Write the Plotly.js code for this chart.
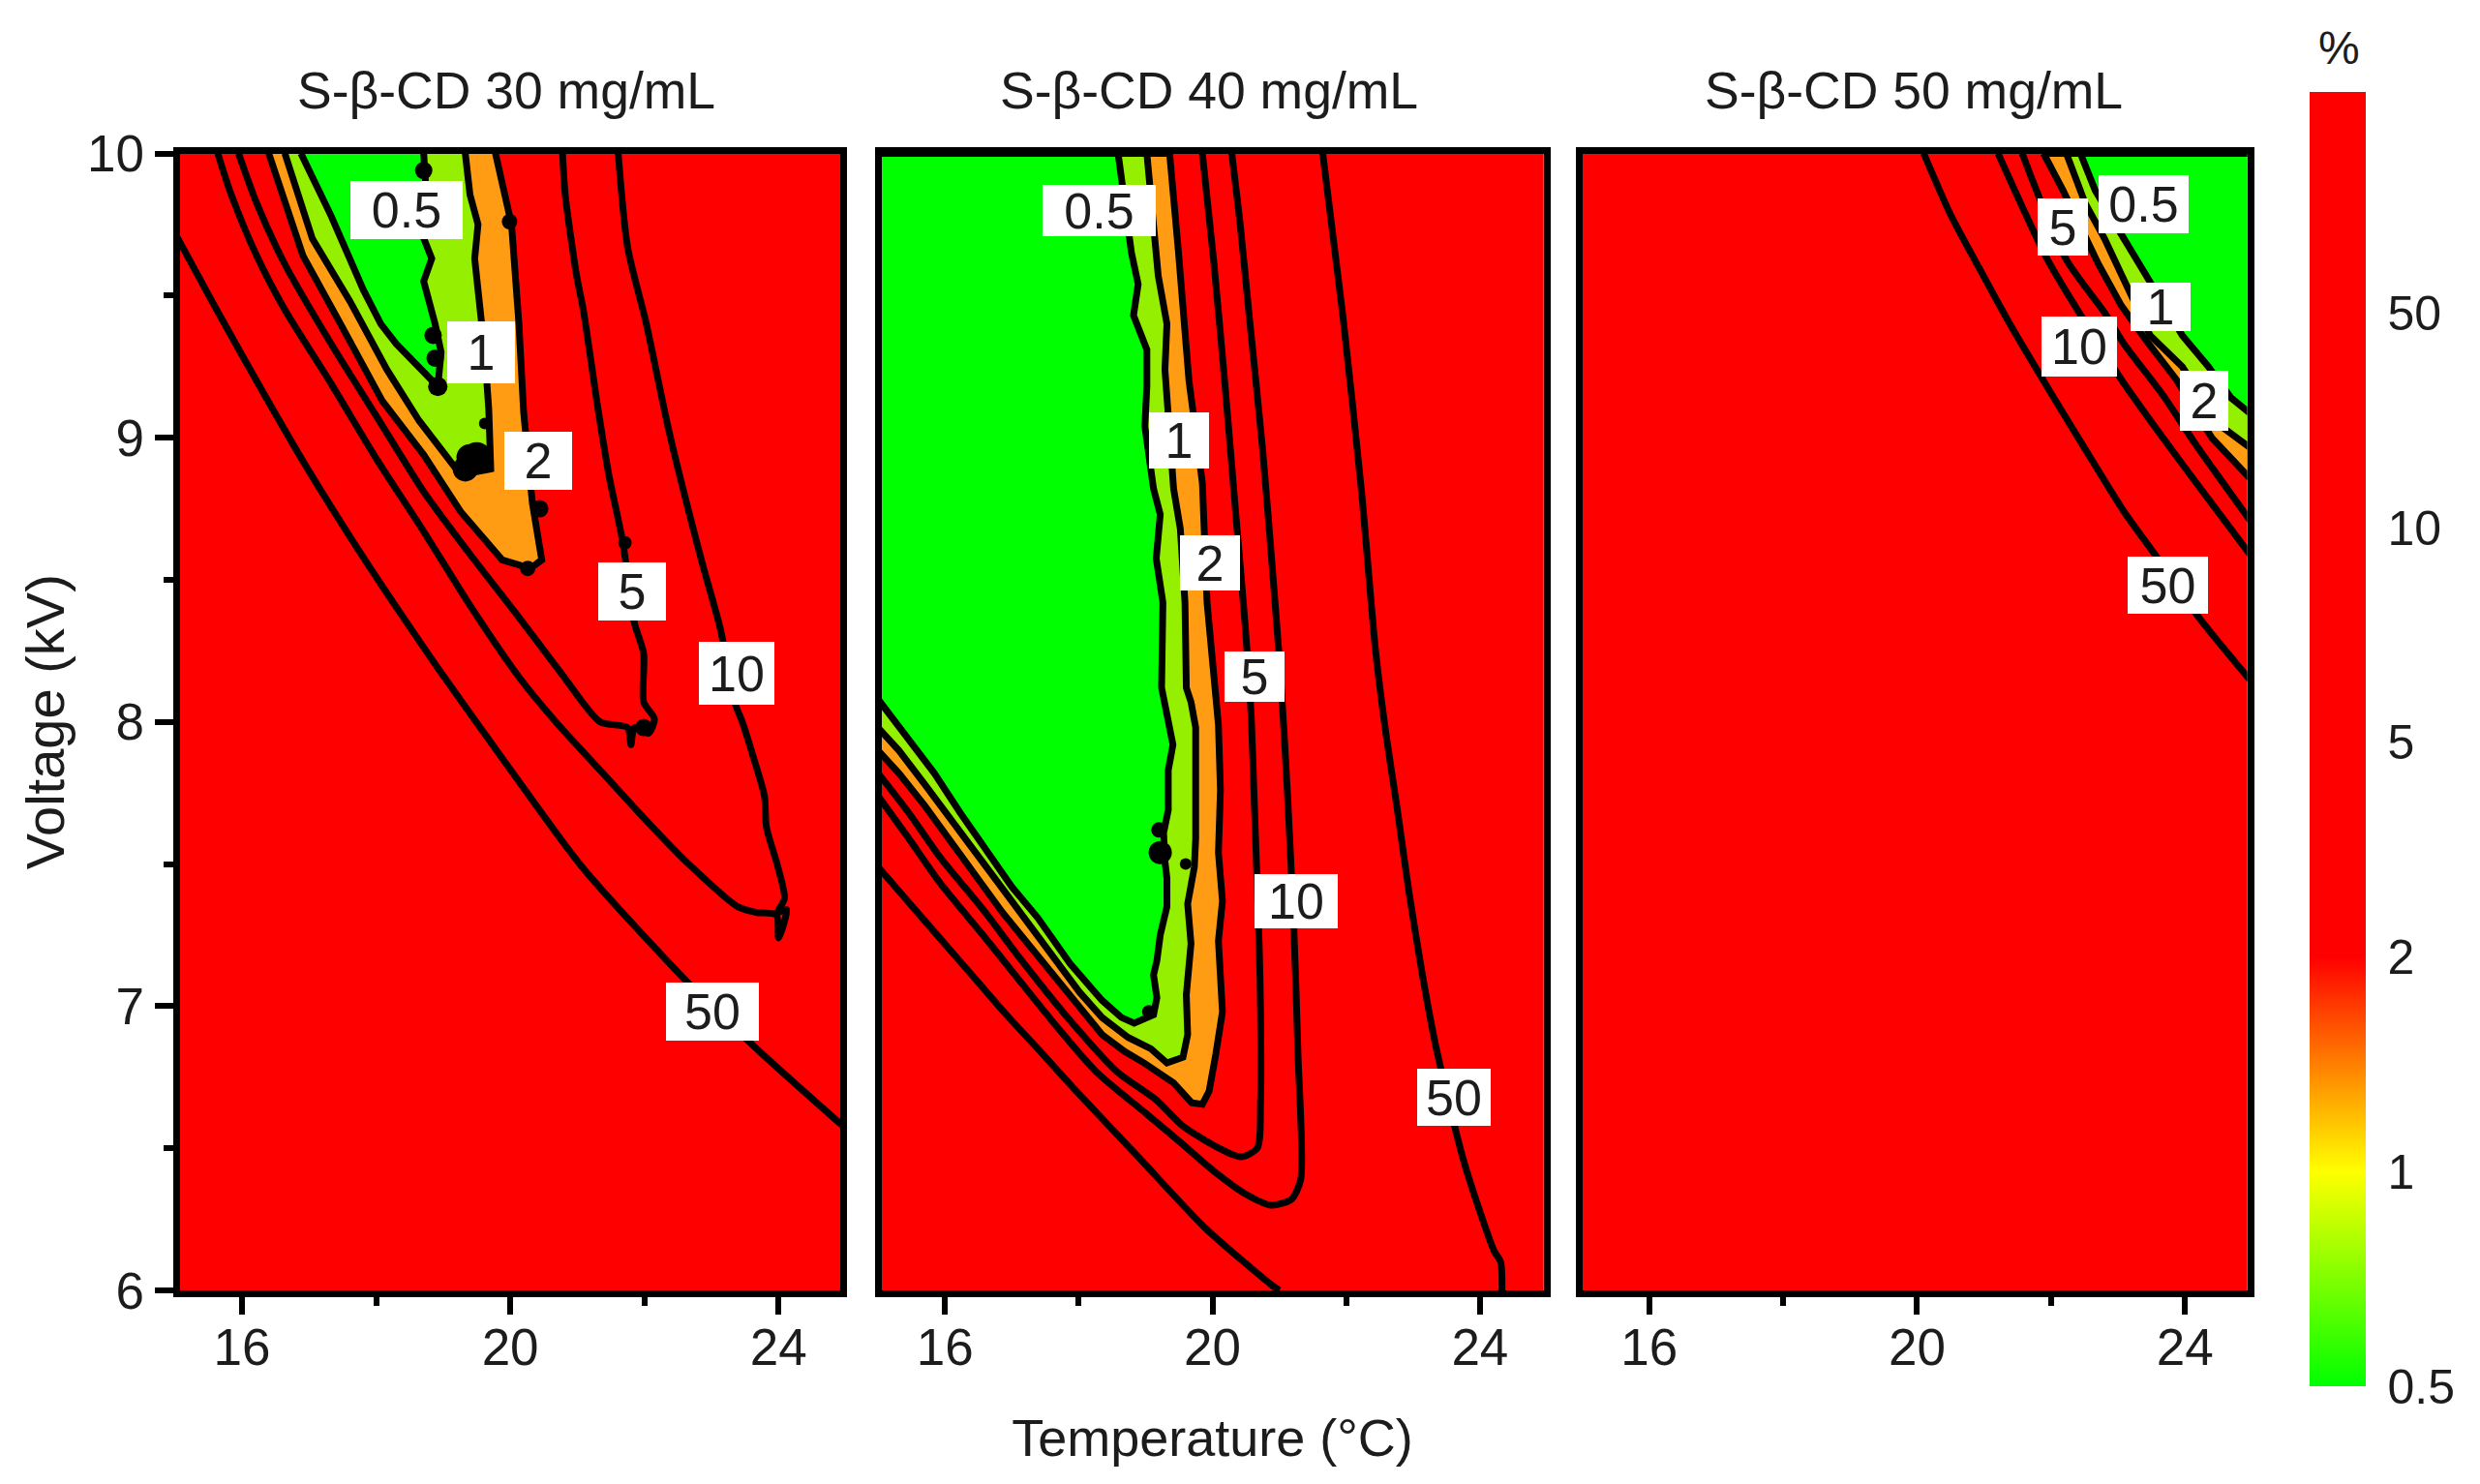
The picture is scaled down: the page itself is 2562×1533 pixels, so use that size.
<!DOCTYPE html>
<html>
<head>
<meta charset="utf-8">
<script src="https://cdn.plot.ly/plotly-3.0.1.min.js"></script>
<style>html,body{margin:0;padding:0;background:#fff}</style>
</head>
<body>
<div id="chart" style="width:2562px;height:1533px"></div>
<script>
// ---- colour-bar levels (% values placed at equal steps) ----
const levelLabels = ['0.5','1','2','5','10','50'];
const levelIndex  = [0,1,2,3,4,5];
const topIndex    = 6.03;
const panelTitles = ['S-β-CD 30 mg/mL','S-β-CD 40 mg/mL','S-β-CD 50 mg/mL'];
const tempEdges = [15,25];
const voltEdges = [6,10];
const backgroundZ = [[6,6],[6,6]];

// ---- Panel 1 (30 mg/mL) iso-lines: temperature, voltage ----
const p1x50=[15,15.6,16.29,16.98,17.67,18.37,18.95,20.01,21.07,22.66,23.72,25];
const p1y50=[9.72,9.46,9.17,8.89,8.63,8.38,8.18,7.83,7.49,7.08,6.84,6.57];
const p1x10=[15.64,15.84,16.22,16.64,17.33,18.02,18.71,19.4,20.14,20.68,21.34,22,22.66,23.39,23.66,23.97,24,24.12,23.99,24.09,23.99,23.82,23.79,23.62,23.46,23.36,23.13,22.85,22.37,22.03,21.75,21.61];
const p1y10=[10,9.855,9.64,9.45,9.19,8.92,8.67,8.41,8.155,8,7.83,7.66,7.5,7.35,7.33,7.32,7.24,7.34,7.33,7.38,7.49,7.63,7.74,7.88,8,8.06,8.33,8.57,9.02,9.4,9.67,10];
const p1x5=[15.95,16.22,16.64,17.33,18.02,18.71,19.4,20.09,20.78,21.34,21.75,21.8,21.85,22.06,22.15,21.99,21.99,21.85,21.68,21.47,21.3,21.09,20.99,20.82,20.78];
const p1y5=[10,9.825,9.61,9.33,9.07,8.81,8.59,8.38,8.165,8,7.98,7.92,7.98,7.96,8.01,8.07,8.24,8.35,8.63,8.87,9.115,9.45,9.57,9.855,10];
const p1x2=[16.4,16.91,17.47,18.09,18.71,19.26,19.88,20.3,20.47,20.4,20.33,20.2,20.13,20.02,19.88,19.78];
const p1y2=[10,9.64,9.4,9.13,8.94,8.74,8.57,8.54,8.57,8.68,8.77,9.09,9.4,9.75,9.9,10];
const p1x1=[16.64,17.05,17.61,18.16,18.64,19.06,19.26,19.71,19.68,19.62,19.47,19.52,19.4,19.33];
const p1y1=[10,9.7,9.48,9.24,9.06,8.93,8.87,8.89,9.1,9.3,9.63,9.75,9.855,10];
const p1x05=[16.88,17.33,17.81,18.07,18.3,18.64,18.92,18.97,18.88,18.71,18.83,18.68,18.75,18.71];
const p1y05=[10,9.78,9.52,9.4,9.33,9.25,9.18,9.3,9.4,9.55,9.63,9.72,9.85,10];
const p1blobX=[18.71,18.85,18.88,18.92,19.5,19.33,20.44,19.99,20.26,21.99,21.71,19.4,19.62];
const p1blobY=[9.94,9.36,9.28,9.18,8.93,8.89,8.75,9.76,8.54,7.98,8.63,8.93,9.05];
const p1blobS=[18,18,18,20,32,26,18,16,16,18,14,28,12];

// ---- Panel 2 (40 mg/mL) iso-lines ----
const p2x50a=[21.65,21.95,22.23,22.44,22.6,22.76,22.94,23.14,23.34,23.74,24.01,24.21,24.31,24.33];
const p2y50a=[10,9.43,8.81,8.25,7.95,7.7,7.4,7.11,6.86,6.47,6.27,6.14,6.1,6];
const p2x50b=[15,15.46,15.94,16.42,16.9,17.39,17.89,18.89,19.89,20.88,21];
const p2y50b=[7.49,7.365,7.235,7.105,6.975,6.85,6.72,6.47,6.22,6.02,6];
const p2x10=[15,15.46,15.94,16.57,17.15,17.72,18.26,19.02,19.55,20.02,20.49,20.88,21.18,21.32,21.28,21.22,21.12,21.02,20.92,20.75,20.55,20.42,20.29];
const p2y10=[7.74,7.59,7.43,7.25,7.08,6.915,6.77,6.62,6.515,6.42,6.34,6.3,6.32,6.39,6.83,7.26,7.76,8.16,8.47,8.96,9.43,9.74,10];
const p2x5=[15,15.46,15.94,16.57,17.15,17.87,18.57,19.16,19.55,20.02,20.42,20.67,20.72,20.72,20.7,20.62,20.58,20.49,20.35,20.19,20.02,19.85];
const p2y5=[7.82,7.68,7.52,7.34,7.16,6.95,6.77,6.67,6.58,6.51,6.47,6.5,6.67,6.98,7.21,7.76,8.02,8.34,8.73,9.18,9.62,10];
const p2x2=[15,15.31,15.7,16.08,16.47,16.86,17.24,17.63,18.01,18.35,18.69,18.98,19.42,19.69,19.85,19.95,20.05,20.15,20.09,20.15,20.09,20.12,20.09,20.02,19.92,19.85,19.65,19.49,19.36,15];
const p2y2=[7.9,7.82,7.705,7.58,7.46,7.33,7.22,7.11,6.995,6.9,6.84,6.8,6.73,6.66,6.655,6.7,6.83,6.98,7.23,7.37,7.54,7.76,7.99,8.19,8.42,8.84,9.2,9.66,10,10];
const p2x1=[15,15.31,15.7,16.08,16.47,16.86,17.24,17.63,18.01,18.35,18.74,19.08,19.32,19.56,19.63,19.61,19.65,19.68,19.63,19.73,19.75,19.75,19.73,19.75,19.68,19.61,19.59,19.52,19.42,19.29,19.32,19.19,19.02,15];
const p2y1=[7.98,7.9,7.78,7.66,7.54,7.41,7.29,7.17,7.05,6.96,6.89,6.85,6.8,6.82,6.9,7.04,7.13,7.22,7.36,7.49,7.59,7.73,7.83,7.98,8.07,8.12,8.42,8.68,8.82,9.24,9.4,9.57,10,10];
const p2x05=[15,15.46,15.84,16.23,16.62,17,17.39,17.87,18.35,18.64,18.83,19.12,19.17,19.12,19.17,19.22,19.32,19.32,19.29,19.27,19.34,19.34,19.41,19.32,19.24,19.26,19.16,19.22,19.12,18.99,19.02,19.02,18.82,18.89,18.79,18.59,15];
const p2y05=[8.08,7.94,7.82,7.68,7.55,7.42,7.31,7.15,7.02,6.96,6.94,6.97,7.03,7.11,7.16,7.25,7.35,7.45,7.51,7.61,7.69,7.83,7.92,8.02,8.12,8.42,8.575,8.73,8.82,9.04,9.18,9.31,9.43,9.54,9.65,10,10];
const p2blobX=[19.22,19.2,19.6,19.05];
const p2blobY=[7.54,7.62,7.5,6.98];
const p2blobS=[24,16,12,14];

// ---- Panel 3 (50 mg/mL) iso-lines ----
const p3x50=[20.1,20.49,20.92,21.41,21.94,22.51,23.09,23.58,24.2,25];
const p3y50=[10,9.79,9.6,9.39,9.18,8.96,8.74,8.58,8.37,8.14];
const p3x10=[21.21,21.94,22.42,23.05,23.67,24.3,25];
const p3y10=[10,9.63,9.44,9.205,9,8.8,8.58];
const p3x5=[21.57,22.22,22.8,23.09,23.67,24.15,25];
const p3y5=[10,9.63,9.44,9.33,9.15,8.98,8.7];
const p3x2=[21.89,22.18,22.71,23.05,23.43,23.87,24.4,25,25,21.89];
const p3y2=[10,9.87,9.61,9.465,9.34,9.205,9,8.85,10,10];
const p3x1=[22.23,22.51,22.8,23.09,23.48,23.96,24.54,25,25,22.23];
const p3y1=[10,9.825,9.7,9.555,9.36,9.25,9.04,8.96,10,10];
const p3x05=[22.44,22.66,23.09,23.43,23.96,24.35,24.69,25,25,22.44];
const p3y05=[10,9.87,9.7,9.57,9.36,9.25,9.14,9.08,10,10];

// ---- White contour-label boxes ----
const p1labelX=[18.46,19.56,20.41,21.81,23.37,23.02];
const p1labelY=[9.8,9.3,8.92,8.46,8.17,6.98];
const p2labelX=[18.31,19.5,19.96,20.63,21.25,23.61];
const p2labelY=[9.8,8.99,8.56,8.16,7.37,6.68];
const p3labelX=[23.38,23.64,24.28,22.18,22.42,23.74];
const p3labelY=[9.82,9.46,9.13,9.74,9.32,8.48];

// ---- Styling ----
const boxW=[[116,70,70,70,78,96],[117,62,62,62,86,76],[93,62,50,52,78,83]];
const boxH=[[60,64,60,60,65,60],[53,58,57,52,56,59],[60,50,62,59,62,59]];
const fill2='#ff9c14', fill1='#94f000', fill05='#00ff00';
const font='"Liberation Sans", Arial, sans-serif';
const textColor='#1c1c1c';
const colorscale=[[0,'#00ff00'],[1/topIndex,'#ffff00'],[2/topIndex,'#ff0000'],[1,'#ff0000']];

const W=2562,H=1533;
const panels=[[185.5,868],[910.5,1594.5],[1634.5,2321.5]];
const xRanges=[[15.07,24.92],[15.05,24.95],[15,24.93]];
const yRange=[6,10];
const top_=158.5,bottom_=1333;

function bg(i){
  const s=i===0?'':String(i+1);
  const t={type:'heatmap',x:tempEdges,y:voltEdges,z:backgroundZ,xaxis:'x'+s,yaxis:'y'+s,
    zmin:0,zmax:topIndex,colorscale:colorscale,showscale:i===0,hoverinfo:'skip'};
  if(i===0){t.colorbar={x:2386/W,xanchor:'left',xpad:0,ypad:0,y:1-95/H,yanchor:'top',
    lenmode:'pixels',len:1337,thicknessmode:'pixels',thickness:58,outlinewidth:0,borderwidth:0,
    tickmode:'array',tickvals:levelIndex,ticktext:levelLabels,ticks:'outside',ticklen:13,tickwidth:1,
    tickcolor:'rgba(0,0,0,0)',tickfont:{family:font,size:50,color:textColor}};}
  return t;
}
function iso(i,xs,ys,fill){
  const s=i===0?'':String(i+1);
  const t={type:'scatter',mode:'lines',x:xs,y:ys,xaxis:'x'+s,yaxis:'y'+s,showlegend:false,hoverinfo:'skip',
    line:fill?{color:'#000',width:7,shape:'linear'}:{color:'#000',width:7,shape:'spline',smoothing:0.7}};
  if(fill){t.fill='toself';t.fillcolor=fill;}
  return t;
}
function blobs(i,xs,ys,sz){
  const s=i===0?'':String(i+1);
  return {type:'scatter',mode:'markers',x:xs,y:ys,xaxis:'x'+s,yaxis:'y'+s,showlegend:false,hoverinfo:'skip',
    marker:{color:'#000',opacity:1,size:sz,line:{width:0}}};
}
const data=[
  bg(0),bg(1),bg(2),
  iso(0,p1x50,p1y50),iso(0,p1x10,p1y10),iso(0,p1x5,p1y5),iso(0,p1x2,p1y2,fill2),iso(0,p1x1,p1y1,fill1),iso(0,p1x05,p1y05,fill05),
  blobs(0,p1blobX,p1blobY,p1blobS),
  iso(1,p2x50a,p2y50a),iso(1,p2x50b,p2y50b),iso(1,p2x10,p2y10),iso(1,p2x5,p2y5),iso(1,p2x2,p2y2,fill2),iso(1,p2x1,p2y1,fill1),iso(1,p2x05,p2y05,fill05),
  blobs(1,p2blobX,p2blobY,p2blobS),
  iso(2,p3x50,p3y50),iso(2,p3x10,p3y10),iso(2,p3x5,p3y5),iso(2,p3x2,p3y2,fill2),iso(2,p3x1,p3y1,fill1),iso(2,p3x05,p3y05,fill05)
];

function xax(i){
  const a={domain:[panels[i][0]/W,panels[i][1]/W],range:xRanges[i],anchor:i===0?'y':'y'+(i+1),
    tickmode:'array',tickvals:[16,20,24],ticktext:['16','20','24'],ticks:'outside',ticklen:18,tickwidth:6,tickcolor:'#000',
    ticklabelstandoff:-12,
    tickfont:{family:font,size:53,color:textColor},showgrid:false,zeroline:false,
    showline:true,linewidth:7,linecolor:'#000',mirror:true,fixedrange:true,
    minor:{tickmode:'array',tickvals:[18,22],ticks:'outside',ticklen:9,tickwidth:6,tickcolor:'#000',showgrid:false}};
  if(i===1){a.title={text:'Temperature (°C)',font:{family:font,size:54,color:textColor},standoff:49};}
  return a;
}
function yax(i){
  const a={domain:[1-bottom_/H,1-top_/H],range:yRange,anchor:i===0?'x':'x'+(i+1),
    showgrid:false,zeroline:false,showline:true,linewidth:7,linecolor:'#000',mirror:true,fixedrange:true};
  if(i===0){Object.assign(a,{tickmode:'array',tickvals:[6,7,8,9,10],ticktext:['6','7','8','9','10'],ticks:'outside',ticklen:19,tickwidth:6,tickcolor:'#000',
    tickfont:{family:font,size:53,color:textColor},
    minor:{tickmode:'array',tickvals:[6.5,7.5,8.5,9.5],ticks:'outside',ticklen:10,tickwidth:6,tickcolor:'#000',showgrid:false},
    title:{text:'Voltage (kV)',font:{family:font,size:56,color:textColor},standoff:8}});}
  else{a.showticklabels=false;a.ticks='';}
  return a;
}
const annotations=[];
function boxes(i,xs,ys,labels){
  const s=i===0?'':String(i+1);
  labels.forEach((t,k)=>{
    annotations.push({xref:'x'+s,yref:'y'+s,x:xs[k],y:ys[k],text:t,showarrow:false,bgcolor:'#fff',
      width:boxW[i][k],height:boxH[i][k],borderpad:0,borderwidth:0,align:'center',valign:'middle',
      font:{family:font,size:52,color:textColor}});
  });
}
boxes(0,p1labelX,p1labelY,levelLabels);
boxes(1,p2labelX,p2labelY,levelLabels);
boxes(2,p3labelX,p3labelY,levelLabels);
[523,1249,1977].forEach((cx,i)=>annotations.push({xref:'paper',yref:'paper',x:cx/W,y:1-93/H,text:panelTitles[i],showarrow:false,
  xanchor:'center',yanchor:'middle',font:{family:font,size:53.5,color:textColor}}));
annotations.push({xref:'paper',yref:'paper',x:2416/W,y:1-49/H,text:'%',showarrow:false,xanchor:'center',yanchor:'middle',
  font:{family:font,size:48,color:textColor}});

const layout={width:W,height:H,margin:{l:0,r:0,t:0,b:0,pad:0,autoexpand:false},paper_bgcolor:'#fff',plot_bgcolor:'#ff0000',showlegend:false,
  xaxis:xax(0),xaxis2:xax(1),xaxis3:xax(2),yaxis:yax(0),yaxis2:yax(1),yaxis3:yax(2),annotations:annotations};
Plotly.newPlot('chart',data,layout,{staticPlot:true,displayModeBar:false});
</script>
</body>
</html>
